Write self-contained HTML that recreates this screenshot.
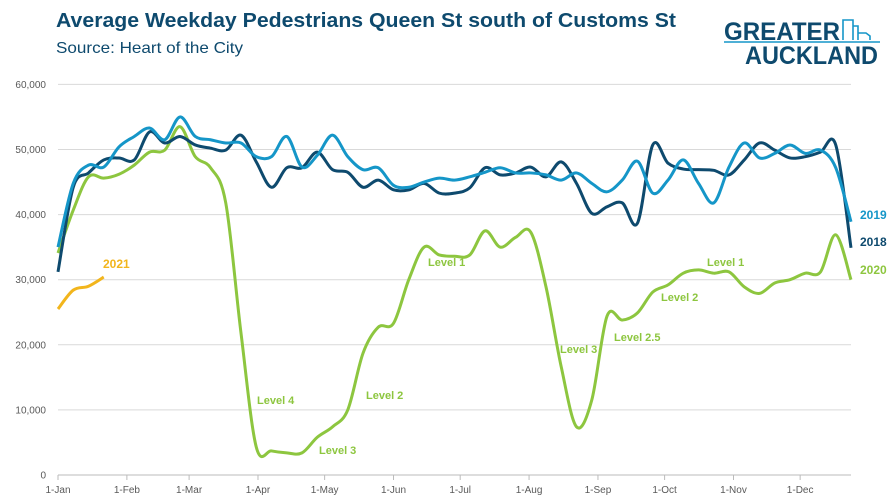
<!DOCTYPE html>
<html><head><meta charset="utf-8">
<style>
body{margin:0;background:#fff;font-family:"Liberation Sans",sans-serif;}
svg text{font-family:"Liberation Sans",sans-serif;}
</style></head>
<body>
<svg id="chart" width="895" height="499" viewBox="0 0 895 499">
<text x="56" y="27" font-size="20" font-weight="bold" fill="#0E4A6E" textLength="620" lengthAdjust="spacingAndGlyphs">Average Weekday Pedestrians Queen St south of Customs St</text>
<text x="56" y="53" font-size="16" fill="#0E4A6E" textLength="187" lengthAdjust="spacingAndGlyphs">Source: Heart of the City</text>
<g>
<text x="724" y="40" font-size="25" font-weight="bold" fill="#0E4A6E" textLength="116" lengthAdjust="spacingAndGlyphs">GREATER</text>
<line x1="724" y1="42" x2="880" y2="42" stroke="#1596C8" stroke-width="1.5"/>
<path d="M843 40 V20 H853 V40 M853 26 H858 V40 M858 33 H866 L870 36 V40" fill="none" stroke="#1596C8" stroke-width="1.6"/>
<text x="745" y="64" font-size="25" font-weight="bold" fill="#0E4A6E" textLength="133" lengthAdjust="spacingAndGlyphs">AUCKLAND</text>
</g>
<g id="grid"></g><g id="axes"></g><g id="series"></g>
<g font-weight="bold" font-size="12">
<text x="860" y="219" fill="#1596C8">2019</text>
<text x="860" y="246" fill="#0E4A6E">2018</text>
<text x="860" y="274" fill="#8DC63F">2020</text>
<text x="103" y="268" fill="#F2B51C">2021</text>
</g>
<g font-size="11" font-weight="bold" fill="#8DC63F">
<text x="257" y="404">Level 4</text>
<text x="319" y="454">Level 3</text>
<text x="366" y="399">Level 2</text>
<text x="428" y="266">Level 1</text>
<text x="560" y="353">Level 3</text>
<text x="614" y="341">Level 2.5</text>
<text x="661" y="301">Level 2</text>
<text x="707" y="266">Level 1</text>
</g>
</svg>
<script>
const yTicks=[0,10000,20000,30000,40000,50000,60000];
const months=["1-Jan","1-Feb","1-Mar","1-Apr","1-May","1-Jun","1-Jul","1-Aug","1-Sep","1-Oct","1-Nov","1-Dec"];
const monthDays=[0,31,59,90,120,151,181,212,243,273,304,334];
const s2018=[31.2,44.2,46.4,48.4,48.7,48.4,52.7,51,52,50.7,50.2,49.9,52.2,48.1,44.2,47.2,47.2,49.6,46.9,46.5,44.2,45.3,43.8,43.8,44.8,43.3,43.3,44.1,47.2,46.1,46.4,47.3,45.8,48.1,44.8,40.2,41.2,41.8,38.7,50.7,47.9,47,46.9,46.8,46.1,48.4,51,49.9,48.7,48.9,49.6,50.7,34.9];
const s2019=[35,44.8,47.6,47.3,50.4,52,53.3,51.5,55,52,51.5,51,51,48.9,48.9,52,47.3,49.1,52.2,48.9,46.9,47.2,44.5,44.2,45,45.6,45.3,45.8,46.5,47.2,46.4,46.4,46.1,45.3,46.4,44.8,43.5,45.3,48.2,43.3,45.3,48.4,44.8,41.8,47.3,51,48.7,49.4,50.7,49.4,49.9,47.2,38.9];
const s2020=[34.1,40.7,45.8,45.6,46.2,47.6,49.6,49.9,53.5,48.9,47.2,41.8,21.8,4.3,3.7,3.4,3.4,5.8,7.4,10,18.7,22.7,23.3,30,35,33.8,33.6,33.8,37.5,35,36.5,37.3,28.9,16.6,7.4,11.5,24.4,23.8,24.9,28.1,29.2,31,31.5,31,31.2,28.9,27.9,29.5,30,31,31.2,36.9,30];
const s2021=[25.5,28.4,29,30.4];
const X0=58,STEP=15.25,DAYPX=2.222,Y0=475,YPX=65.1/10000;
const xw=i=>X0+i*STEP, xd=d=>X0+d*DAYPX, y=v=>Y0-v*YPX;
const NS="http://www.w3.org/2000/svg";
function mk(t,a,p){const e=document.createElementNS(NS,t);for(const k in a)e.setAttribute(k,a[k]);p.appendChild(e);return e;}
const grid=document.getElementById('grid'),axes=document.getElementById('axes'),ser=document.getElementById('series');
yTicks.forEach(v=>{
 const l=mk('line',{x1:X0,x2:851,y1:y(v),y2:y(v),stroke:v===0?'#bbb':'#d9d9d9','stroke-width':1},grid);
 
 
 const t=mk('text',{x:46,y:y(v)+3.5,'text-anchor':'end','font-size':10,fill:'#595959'},axes);
 t.textContent=v===0?'0':v.toLocaleString('en-US');
 
 
});
months.forEach((m,i)=>{
 const x=xd(monthDays[i]);
 const tk=mk('line',{x1:x,x2:x,y1:Y0,y2:Y0+5,stroke:'#bbb'},axes);
 
 
 const t=mk('text',{x:x,y:493,'text-anchor':'middle','font-size':10,fill:'#595959'},axes);
 t.textContent=m;
 
 
});
function path(vals){
 const p=vals.map((v,i)=>[xw(i),y(v*1000)]);
 let d='M'+p[0][0]+' '+p[0][1];
 for(let i=0;i<p.length-1;i++){
  const a=p[Math.max(0,i-1)],b=p[i],c=p[i+1],e=p[Math.min(p.length-1,i+2)];
  const c1=[b[0]+(c[0]-a[0])/6,b[1]+(c[1]-a[1])/6],c2=[c[0]-(e[0]-b[0])/6,c[1]-(e[1]-b[1])/6];
  d+=` C${c1[0]} ${c1[1]} ${c2[0]} ${c2[1]} ${c[0]} ${c[1]}`;
 }
 return d;
}
[[s2020,'#8DC63F','line-2020'],[s2018,'#0E4A6E','line-2018'],[s2019,'#1596C8','line-2019'],[s2021,'#F2B51C','line-2021']].forEach(([s,c,n])=>{
 const e=mk('path',{d:path(s),fill:'none',stroke:c,'stroke-width':3,'stroke-linejoin':'round'},ser);
 
 
});
</script>
</body></html>
